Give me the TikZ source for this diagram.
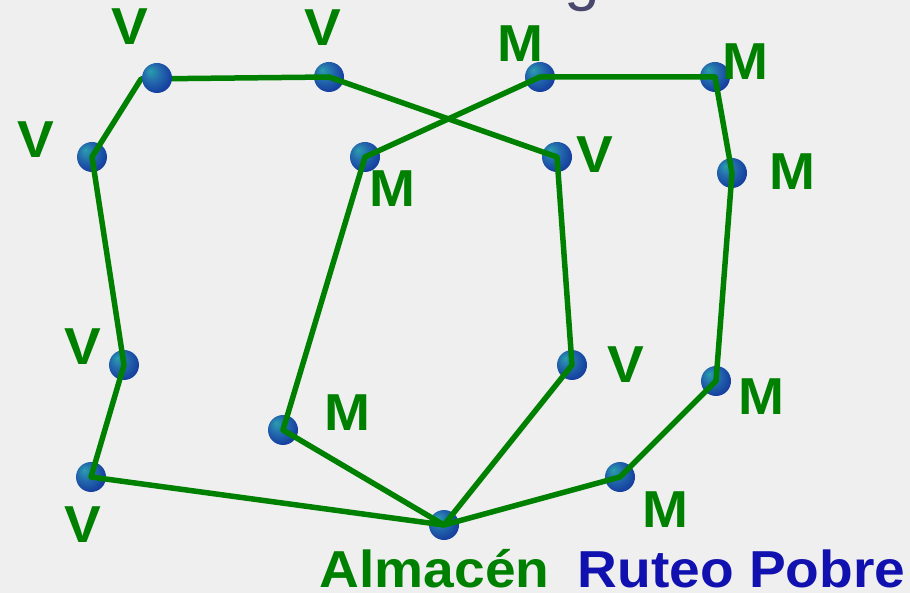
\documentclass[tikz,border=0pt]{standalone}
\usepackage{fontspec}
\setmainfont{Liberation Sans}
\newfontfamily\labelfont{Liberation Sans}[FakeStretch=1.06]
\definecolor{routegreen}{RGB}{0,128,0}
\definecolor{titleblue}{RGB}{17,17,175}
\definecolor{paper}{RGB}{239,239,239}
\definecolor{slate}{RGB}{72,72,110}
% blue stop marker, lit from the upper left
\pgfdeclareradialshading{dotball}{\pgfpoint{-12bp}{12bp}}{rgb(0bp)=(0.16,0.62,0.68);rgb(14bp)=(0.14,0.42,0.68);rgb(30bp)=(0.08,0.24,0.62);rgb(50bp)=(0.06,0.14,0.58)}
\begin{document}
\begin{tikzpicture}[x=1pt,y=-1pt,
    dot/.style={circle, minimum size=30pt, inner sep=0pt, shade, shading=dotball},
    lbl/.style={anchor=base, inner sep=0pt, text=routegreen, font=\labelfont\bfseries\fontsize{52}{60}\selectfont},
    route/.style={draw=routegreen, line width=5.5pt, line join=round}]
    \useasboundingbox (0,0) rectangle (910,593);
    \fill[paper] (0,0) rectangle (910,593);
    \node[anchor=base, inner sep=0pt, text=slate, font=\fontsize{64}{70}\selectfont] (ttl) at (582,-1) {g};
    % stops
    \node[dot] (d2) at (92,157) {};
    \node[dot] (d3) at (329,77) {};
    \node[dot] (d4) at (540,77) {};
    \node[dot] (d5) at (715,77) {};
    \node[dot] (d6) at (732,173) {};
    \node[dot] (d7) at (365,157) {};
    \node[dot] (d8) at (557,157) {};
    \node[dot] (d9) at (124,365) {};
    \node[dot] (d10) at (91,477) {};
    \node[dot] (d11) at (283,430) {};
    \node[dot] (d12) at (572,365) {};
    \node[dot] (d13) at (716,381) {};
    \node[dot] (d14) at (620,477) {};
    \node[dot] (d15) at (444,525) {};
    \coordinate (k1) at (141,79);
    % the two routes out of the depot
    \draw[route] (d15.center) -- (d10.center) -- (d9.center) -- (d2.center) -- (k1) -- (d3.center) -- (d8.center) -- (d12.center) -- cycle;
    \draw[route] (d15.center) -- (d11.center) -- (d7.center) -- (d4.center) -- (d5.center) -- (d6.center) -- (d13.center) -- (d14.center) -- cycle;
    \node[dot] (d1) at (157,78) {};
    % labels
    \node[lbl] (t1) at (130,45) {V};
    \node[lbl] (t3) at (323,46) {V};
    \node[lbl] (t4) at (520,62) {M};
    \node[lbl] (t5) at (745,80) {M};
    \node[lbl] (t2) at (36,158) {V};
    \node[lbl] (t7) at (392,207) {M};
    \node[lbl] (t8) at (595,173) {V};
    \node[lbl] (t6) at (792,190) {M};
    \node[lbl] (t9) at (83,365) {V};
    \node[lbl] (t10) at (83,542) {V};
    \node[lbl] (t11) at (347,430) {M};
    \node[lbl] (t12) at (626,382) {V};
    \node[lbl] (t13) at (761,414) {M};
    \node[lbl] (t14) at (665,527) {M};
    \node[lbl] (t15) at (434.5,587) {Almacén};
    \node[lbl, text=titleblue] (name) at (741.5,587) {Ruteo Pobre};
\end{tikzpicture}
\end{document}
